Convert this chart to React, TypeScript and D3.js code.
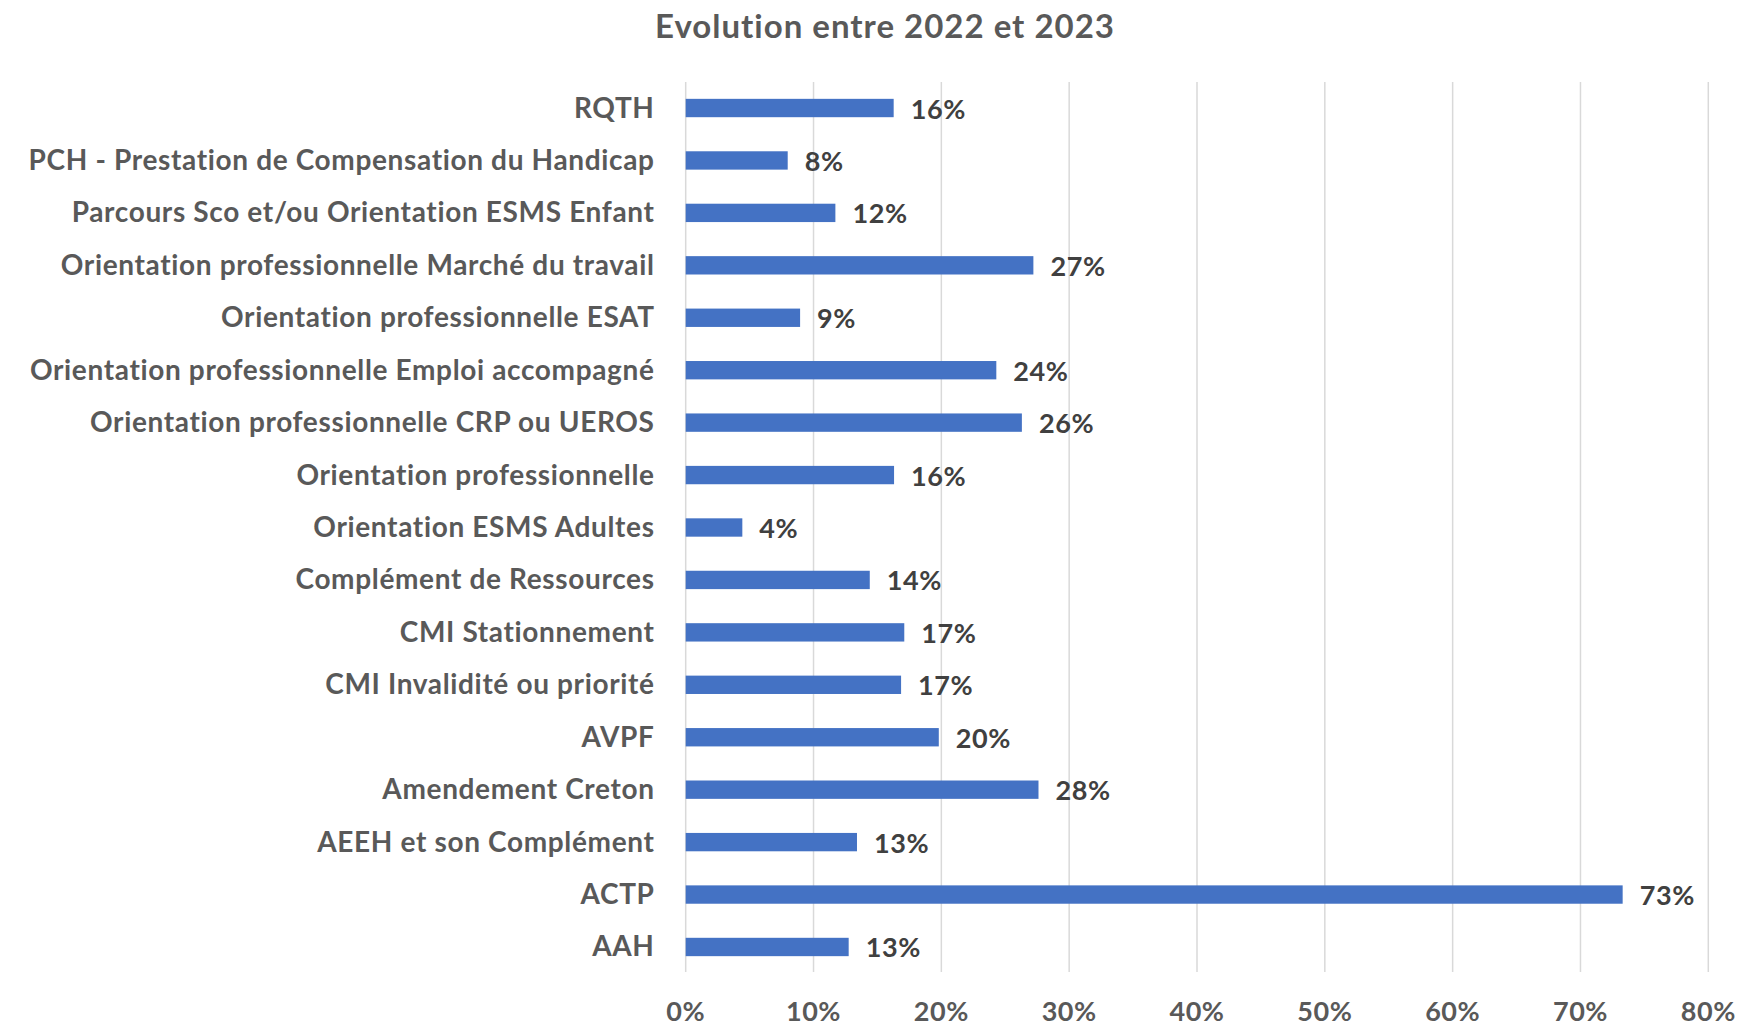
import * as d3 from "d3";
import { useEffect } from "react";

const WIDTH = 1740;
const HEIGHT = 1028;

const categories = [
  "RQTH",
  "PCH - Prestation de Compensation du Handicap",
  "Parcours Sco et/ou Orientation ESMS Enfant",
  "Orientation professionnelle Marché du travail",
  "Orientation professionnelle ESAT",
  "Orientation professionnelle Emploi accompagné",
  "Orientation professionnelle CRP ou UEROS",
  "Orientation professionnelle",
  "Orientation ESMS Adultes",
  "Complément de Ressources",
  "CMI Stationnement",
  "CMI Invalidité ou priorité",
  "AVPF",
  "Amendement Creton",
  "AEEH et son Complément",
  "ACTP",
  "AAH",
];

const values = [
  0.1627, 0.0798, 0.1171, 0.272, 0.0895, 0.243, 0.263, 0.163, 0.0443, 0.144,
  0.171, 0.1685, 0.198, 0.276, 0.134, 0.733, 0.1275,
];

const xTicks = [0, 0.1, 0.2, 0.3, 0.4, 0.5, 0.6, 0.7, 0.8];

const FONT = "Lato, 'Open Sans', sans-serif";

export default function App() {
  useEffect(() => {
    document.body.style.margin = "0";
  }, []);

  const x = d3.scaleLinear().domain([0, 0.8]).range([685.7, 1708.3]);
  const y = d3
    .scaleBand<string>()
    .domain(categories)
    .range([81.8, 973.2])
    .paddingInner(0.65)
    .paddingOuter(0.325);

  const pct = d3.format(".0%");

  return (
    <svg width={WIDTH} height={HEIGHT} style={{ display: "block", background: "#fff" }}>
      <text
        x={885}
        y={37.5}
        textAnchor="middle"
        fontFamily={FONT}
        fontWeight={700}
        fontSize={33}
        letterSpacing={1}
        fill="#595959"
      >
        Evolution entre 2022 et 2023
      </text>

      {xTicks.map((t) => (
        <line
          key={t}
          x1={x(t)}
          x2={x(t)}
          y1={82}
          y2={972}
          stroke="#d9d9d9"
          strokeWidth={1.5}
        />
      ))}

      {categories.map((c, i) => {
        const yc = (y(c) ?? 0) + y.bandwidth() / 2;
        return (
          <g key={c}>
            <rect
              x={x(0)}
              y={y(c)}
              width={x(values[i]) - x(0)}
              height={y.bandwidth()}
              fill="#4472C4"
            />
            <text
              x={654.6}
              y={yc + 9.5}
              textAnchor="end"
              fontFamily={FONT}
              fontWeight={700}
              fontSize={28}
              letterSpacing={0.65}
              fill="#595959"
            >
              {c}
            </text>
            <text
              x={x(values[i]) + 17}
              y={yc + 10.5}
              fontFamily={FONT}
              fontWeight={700}
              fontSize={27}
              letterSpacing={0.6}
              fill="#404040"
            >
              {pct(values[i])}
            </text>
          </g>
        );
      })}

      {xTicks.map((t) => (
        <text
          key={t}
          x={x(t)}
          y={1021}
          textAnchor="middle"
          fontFamily={FONT}
          fontWeight={700}
          fontSize={27}
          letterSpacing={0.5}
          fill="#595959"
        >
          {pct(t)}
        </text>
      ))}
    </svg>
  );
}
